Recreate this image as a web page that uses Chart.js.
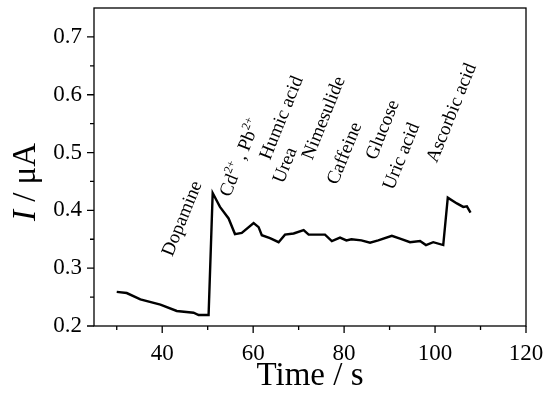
<!DOCTYPE html>
<html>
<head>
<meta charset="utf-8">
<script src="https://cdn.jsdelivr.net/npm/chart.js@4.4.0/dist/chart.umd.min.js"></script>
<style>
  html, body { margin: 0; padding: 0; background: #fff; }
  #wrap { width: 550px; height: 396px; }
</style>
</head>
<body>
<div id="wrap"><canvas id="chart" width="550" height="396"></canvas></div>
<script>
// time (s) and current (uA)
const times = [30, 32.2, 35.2, 39.6, 43.2, 46.9, 48, 50.2, 51.1, 52.7, 54.6, 56, 57.5, 60.1, 61.2, 61.9,
  63.7, 65.6, 67, 68.9, 71.1, 72.2, 75.8, 77.3, 79.1, 80.5, 81.6, 83.8, 85.7, 87.5, 90.5, 92.3,
  94.5, 96.7, 98, 99.6, 101.8, 102.8, 104.8, 106.2, 107, 107.8];
const current = [0.259, 0.257, 0.246, 0.237, 0.226, 0.223, 0.219, 0.219, 0.43, 0.406, 0.386, 0.359, 0.361, 0.378, 0.371, 0.357,
  0.352, 0.345, 0.358, 0.36, 0.366, 0.358, 0.358, 0.347, 0.353, 0.348, 0.35, 0.348, 0.344, 0.348, 0.356, 0.351,
  0.345, 0.347, 0.34, 0.345, 0.34, 0.422, 0.412, 0.406, 0.407, 0.396];

const xMajor = [40, 60, 80, 100, 120];
const xMinor = [30, 50, 70, 90, 110];
const yMajor = [0.2, 0.3, 0.4, 0.5, 0.6, 0.7];
const yMinor = [0.25, 0.35, 0.45, 0.55, 0.65];

// interferent names, [text, superscript] pieces
const addNames = [
  [['Dopamine', 0]],
  [['Cd', 0], ['2+', 1], [' , Pb', 0], ['2+', 1]],
  [['Humic acid', 0]],
  [['Urea', 0]],
  [['Nimesulide', 0]],
  [['Caffeine', 0]],
  [['Glucose', 0]],
  [['Uric acid', 0]],
  [['Ascorbic acid', 0]]
];
// where each name starts, in data units (time, current)
const addAt = [[42.2, 0.319], [54.9, 0.422], [63.7, 0.486], [66.6, 0.445], [73, 0.486],
  [78.5, 0.443], [87, 0.486], [90.8, 0.434], [100.4, 0.481]];

const SERIF = '"Liberation Serif", "Times New Roman", serif';

function drawRich(ctx, parts, size) {
  let x = 0;
  parts.forEach(function (p) {
    if (p[1]) {
      ctx.font = Math.round(size * 0.62) + 'px ' + SERIF;
      ctx.fillText(p[0], x, -size * 0.42);
    } else {
      ctx.font = size + 'px ' + SERIF;
      ctx.fillText(p[0], x, 0);
    }
    x += ctx.measureText(p[0]).width;
  });
}

const decor = {
  id: 'decor',
  afterDraw: function (chart) {
    const ctx = chart.ctx;
    const a = chart.chartArea;
    const x = chart.scales.x, y = chart.scales.y;
    ctx.save();
    ctx.strokeStyle = '#000';
    ctx.lineWidth = 1.3;
    ctx.strokeRect(a.left, a.top, a.right - a.left, a.bottom - a.top);

    ctx.beginPath();
    xMajor.forEach(function (v) { const p = x.getPixelForValue(v); ctx.moveTo(p, a.bottom); ctx.lineTo(p, a.bottom + 7); });
    xMinor.forEach(function (v) { const p = x.getPixelForValue(v); ctx.moveTo(p, a.bottom); ctx.lineTo(p, a.bottom + 4); });
    yMajor.forEach(function (v) { const p = y.getPixelForValue(v); ctx.moveTo(a.left, p); ctx.lineTo(a.left - 7, p); });
    yMinor.forEach(function (v) { const p = y.getPixelForValue(v); ctx.moveTo(a.left, p); ctx.lineTo(a.left - 4, p); });
    ctx.stroke();

    ctx.fillStyle = '#000';
    ctx.textBaseline = 'alphabetic';
    ctx.textAlign = 'left';

    // x title
    ctx.font = '33px ' + SERIF;
    const xt = 'Time / s';
    ctx.fillText(xt, (a.left + a.right) / 2 - ctx.measureText(xt).width / 2, 385);

    // y title, italic I
    ctx.save();
    ctx.translate(35, 182);
    ctx.rotate(-Math.PI / 2);
    ctx.font = 'italic 33px ' + SERIF;
    const wI = ctx.measureText('I').width;
    ctx.font = '33px ' + SERIF;
    const rest = ' / \u03bcA';
    const wR = ctx.measureText(rest).width;
    const x0 = -(wI + wR) / 2;
    ctx.font = 'italic 33px ' + SERIF;
    ctx.fillText('I', x0, 0);
    ctx.font = '33px ' + SERIF;
    ctx.fillText(rest, x0 + wI, 0);
    ctx.restore();

    // addition labels
    addNames.forEach(function (parts, i) {
      ctx.save();
      ctx.translate(x.getPixelForValue(addAt[i][0]), y.getPixelForValue(addAt[i][1]));
      ctx.rotate(-68 * Math.PI / 180);
      drawRich(ctx, parts, 19);
      ctx.restore();
    });
    ctx.restore();
  }
};

new Chart(document.getElementById('chart'), {
  type: 'line',
  data: {
    datasets: [{
      data: times.map(function (t, i) { return { x: t, y: current[i] }; }),
      borderColor: '#000',
      borderWidth: 2.4,
      pointRadius: 0,
      tension: 0,
      fill: false
    }]
  },
  options: {
    responsive: false,
    animation: false,
    devicePixelRatio: 1,
    layout: { padding: { top: 8, right: 24, left: 0, bottom: 0 } },
    plugins: { legend: { display: false }, tooltip: { enabled: false } },
    scales: {
      x: {
        type: 'linear',
        min: 25,
        max: 120,
        grid: { display: false, drawTicks: false },
        border: { display: false },
        afterBuildTicks: function (s) { s.ticks = xMajor.map(function (v) { return { value: v }; }); },
        afterFit: function (s) { s.height = 70; s.paddingLeft = 0; s.paddingRight = 0; },
        ticks: {
          color: '#000',
          padding: 14,
          maxRotation: 0,
          font: { family: SERIF, size: 23 },
          callback: function (v) { return String(v); }
        }
      },
      y: {
        type: 'linear',
        min: 0.2,
        max: 0.75,
        grid: { display: false, drawTicks: false },
        border: { display: false },
        afterBuildTicks: function (s) { s.ticks = yMajor.map(function (v) { return { value: v }; }); },
        afterFit: function (s) { s.width = 94; s.paddingTop = 0; s.paddingBottom = 0; },
        ticks: {
          color: '#000',
          padding: 12,
          font: { family: SERIF, size: 23 },
          callback: function (v) { return v.toFixed(1); }
        }
      }
    }
  },
  plugins: [decor]
});
</script>
</body>
</html>
